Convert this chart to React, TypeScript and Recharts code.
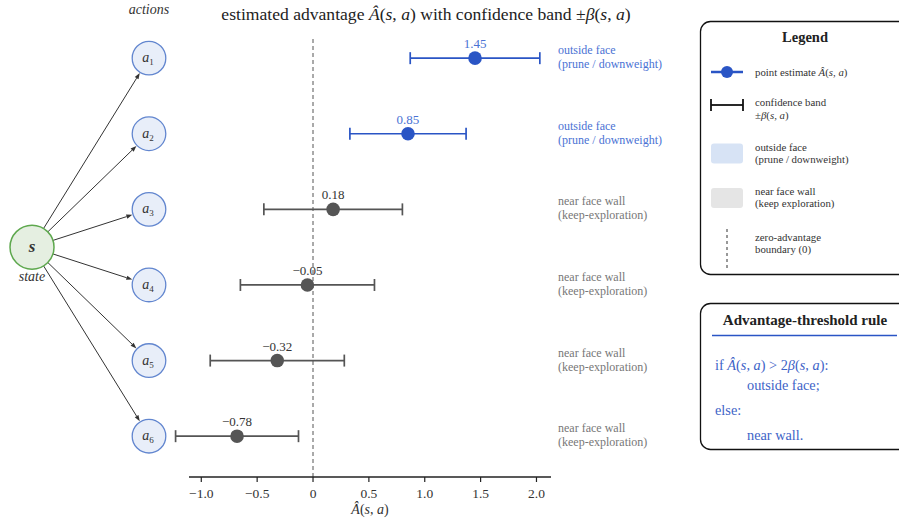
import React from 'react';
import { ScatterChart, Scatter, XAxis, YAxis, ErrorBar, ReferenceLine, ReferenceDot } from 'recharts';

// ---------- data ----------
const actionSubs = ['1', '2', '3', '4', '5', '6'];
const rows = [1, 2, 3, 4, 5, 6];
const advantage = [1.45, 0.85, 0.18, -0.05, -0.32, -0.68];
const beta = [0.58, 0.52, 0.62, 0.6, 0.6, 0.55];
const valueLabels = ['1.45', '0.85', '0.18', '\u22120.05', '\u22120.32', '\u22120.78'];
const groups = ['outside', 'outside', 'near', 'near', 'near', 'near'];
const xTicks = [-1, -0.5, 0, 0.5, 1, 1.5, 2];
const xTickLabels = ['\u22121.0', '\u22120.5', '0', '0.5', '1.0', '1.5', '2.0'];
const outsideText = ['outside face', '(prune / downweight)'];
const nearText = ['near face wall', '(keep-exploration)'];

// ---------- layout constants ----------
const SERIF = 'Liberation Serif';
const X_DOMAIN: [number, number] = [-1.28, 2.13];
const AXIS_SPAN: [number, number] = [-1.11, 2.13];
const Y_DOMAIN: [number, number] = [0.72, 6.54];
const ACTION_X = -1.468;
const STATE_X = -2.515;
const STATE_ROW = 3.5;
const SIDE_X = 2.193;
const BLUE = '#2a55c5';
const BLUE_TEXT = '#4a72d4';
const GRAY = '#555555';

const data = rows.map((r, i) => ({
  row: r,
  adv: advantage[i],
  beta: beta[i],
  label: valueLabels[i],
  group: groups[i],
  sub: actionSubs[i],
}));
const outsideData = data.filter((d) => d.group === 'outside');
const nearData = data.filter((d) => d.group === 'near');

const AHat = () => (
  <>
    <tspan fontStyle="italic">Â</tspan>
    <tspan>(</tspan>
    <tspan fontStyle="italic">s</tspan>
    <tspan>, </tspan>
    <tspan fontStyle="italic">a</tspan>
    <tspan>)</tspan>
  </>
);
const Beta = () => (
  <>
    <tspan fontStyle="italic">β</tspan>
    <tspan>(</tspan>
    <tspan fontStyle="italic">s</tspan>
    <tspan>, </tspan>
    <tspan fontStyle="italic">a</tspan>
    <tspan>)</tspan>
  </>
);

const makePointShape = (fill: string, labelFill: string) => (props: any) => {
  const { cx, cy, payload } = props;
  return (
    <g>
      <circle cx={cx} cy={cy} r={6.8} fill={fill} />
      <text x={cx} y={cy - 10} textAnchor="middle" fontSize={13} fill={labelFill} fontFamily={SERIF}>
        {payload.label}
      </text>
    </g>
  );
};

const Arrow = (props: any) => {
  const { x1, y1, x2, y2 } = props;
  const dx = x2 - x1;
  const dy = y2 - y1;
  const L = Math.hypot(dx, dy) || 1;
  const ux = dx / L;
  const uy = dy / L;
  const sx = x1 + ux * 22;
  const sy = y1 + uy * 22;
  const ex = x2 - ux * 17.5;
  const ey = y2 - uy * 17.5;
  const hl = 6;
  const hw = 2.2;
  const bx = ex - ux * hl;
  const by = ey - uy * hl;
  const pts = `${ex},${ey} ${bx - uy * hw},${by + ux * hw} ${bx + uy * hw},${by - ux * hw}`;
  return (
    <g>
      <line x1={sx} y1={sy} x2={bx} y2={by} stroke="#333" strokeWidth={1} />
      <polygon points={pts} fill="#333" />
    </g>
  );
};

const makeActionNode = (sub: string, showHeader: boolean) => (props: any) => {
  const { cx, cy } = props;
  return (
    <g>
      <circle cx={cx} cy={cy} r={16.8} fill="#e8eef9" stroke="#6286cf" strokeWidth={1.3} />
      <text x={cx - 1} y={cy + 4} textAnchor="middle" fontFamily={SERIF} fontSize={14} fill="#333">
        <tspan fontStyle="italic">a</tspan>
        <tspan dy={3} fontSize={9}>{sub}</tspan>
      </text>
      {showHeader && (
        <text x={cx} y={cy - 44} textAnchor="middle" fontFamily={SERIF} fontSize={14} fontStyle="italic" fill="#333">
          actions
        </text>
      )}
    </g>
  );
};

const StateNode = (props: any) => {
  const { cx, cy } = props;
  return (
    <g>
      <circle cx={cx} cy={cy} r={22} fill="#e5efe1" stroke="#5ea84e" strokeWidth={1.5} />
      <text x={cx} y={cy + 5} textAnchor="middle" fontFamily={SERIF} fontSize={17} fontStyle="italic" fontWeight="bold" fill="#333">
        s
      </text>
      <text x={cx} y={cy + 34} textAnchor="middle" fontFamily={SERIF} fontSize={14} fontStyle="italic" fill="#333">
        state
      </text>
    </g>
  );
};

const makeSideLabel = (lines: string[], color: string) => (props: any) => {
  const { cx, cy } = props;
  return (
    <text x={cx} fontFamily={SERIF} fontSize={12} fill={color}>
      <tspan x={cx} y={cy - 4}>{lines[0]}</tspan>
      <tspan x={cx} y={cy + 10}>{lines[1]}</tspan>
    </text>
  );
};

const AxisTitle = (props: any) => {
  const { cx, cy } = props;
  return (
    <text x={cx} y={cy + 37} textAnchor="middle" fontFamily={SERIF} fontSize={14} fill="#333">
      <AHat />
    </text>
  );
};

const Overlay = () => (
  <svg width={899} height={527} style={{ position: 'absolute', left: 0, top: 0, pointerEvents: 'none' }}>
    <text x={426} y={20} textAnchor="middle" fontFamily={SERIF} fontSize={17.6} fill="#222">
      estimated advantage <AHat /> with confidence band ±<Beta />
    </text>

    {/* Legend box */}
    <rect x={700.5} y={21.5} width={230} height={253} rx={10} fill="#fff" stroke="#111" strokeWidth={1.3} />
    <text x={805} y={42} textAnchor="middle" fontFamily={SERIF} fontSize={14.5} fontWeight="bold" fill="#222">
      Legend
    </text>
    <line x1={711} y1={72} x2={743} y2={72} stroke={BLUE} strokeWidth={2.5} />
    <circle cx={727} cy={72} r={6} fill={BLUE} />
    <text x={755} y={76} fontFamily={SERIF} fontSize={10.8} fill="#333">
      point estimate <AHat />
    </text>
    <line x1={711} y1={105} x2={743} y2={105} stroke="#111" strokeWidth={1.8} />
    <line x1={711} y1={99} x2={711} y2={111} stroke="#111" strokeWidth={1.8} />
    <line x1={743} y1={99} x2={743} y2={111} stroke="#111" strokeWidth={1.8} />
    <text fontFamily={SERIF} fontSize={10.8} fill="#333">
      <tspan x={755} y={106}>confidence band</tspan>
      <tspan x={755} y={119}>±</tspan>
      <Beta />
    </text>
    <rect x={711} y={143.5} width={32} height={20} rx={3} fill="#d7e3f5" />
    <text fontFamily={SERIF} fontSize={10.8} fill="#333">
      <tspan x={755} y={151}>outside face</tspan>
      <tspan x={755} y={163}>(prune / downweight)</tspan>
    </text>
    <rect x={711} y={188} width={32} height={20} rx={3} fill="#e5e5e5" />
    <text fontFamily={SERIF} fontSize={10.8} fill="#333">
      <tspan x={755} y={195}>near face wall</tspan>
      <tspan x={755} y={207}>(keep exploration)</tspan>
    </text>
    <line x1={727} y1={229} x2={727} y2={268} stroke="#777" strokeWidth={1.5} strokeDasharray="3 3" />
    <text fontFamily={SERIF} fontSize={10.8} fill="#333">
      <tspan x={755} y={241}>zero-advantage</tspan>
      <tspan x={755} y={253}>boundary (0)</tspan>
    </text>

    {/* Rule box */}
    <rect x={700.5} y={303.5} width={230} height={146} rx={10} fill="#fff" stroke="#111" strokeWidth={1.3} />
    <text x={805} y={325} textAnchor="middle" fontFamily={SERIF} fontSize={15} fontWeight="bold" fill="#222">
      Advantage-threshold rule
    </text>
    <line x1={712} y1={335.5} x2={897} y2={335.5} stroke={BLUE} strokeWidth={1.3} />
    <g fontFamily={SERIF} fontSize={14.3} fill="#3d63c7">
      <text x={715} y={370}>
        if <AHat /> &gt; 2<Beta />:
      </text>
      <text x={747} y={390}>outside face;</text>
      <text x={715} y={415}>else:</text>
      <text x={747} y={440}>near wall.</text>
    </g>
  </svg>
);

export default function App() {
  return (
    <div style={{ position: 'absolute', left: 0, top: 0, width: 899, height: 527, background: '#fff', fontFamily: SERIF }}>
      <ScatterChart width={899} height={527} margin={{ top: 37, right: 348, bottom: 0, left: 170 }}>
        <XAxis
          type="number"
          dataKey="adv"
          domain={X_DOMAIN}
          ticks={xTicks}
          tickFormatter={(v: number) => xTickLabels[xTicks.indexOf(v)] ?? String(v)}
          height={50}
          axisLine={false}
          tickLine={{ stroke: '#222', strokeWidth: 1.2 }}
          tickSize={5}
          tickMargin={6}
          tick={{ fill: '#333', fontSize: 13.5, fontFamily: SERIF }}
        />
        <YAxis type="number" dataKey="row" domain={Y_DOMAIN} reversed hide />

        <ReferenceLine x={0} stroke="#555" strokeWidth={1} strokeDasharray="4 3" />
        <ReferenceLine
          segment={[{ x: AXIS_SPAN[0], y: Y_DOMAIN[1] }, { x: AXIS_SPAN[1], y: Y_DOMAIN[1] }]}
          stroke="#222"
          strokeWidth={1.3}
          ifOverflow="visible"
        />
        <ReferenceDot x={(AXIS_SPAN[0] + AXIS_SPAN[1]) / 2} y={Y_DOMAIN[1]} ifOverflow="visible" shape={AxisTitle} />

        {rows.map((r) => (
          <ReferenceLine
            key={'arrow' + r}
            segment={[{ x: STATE_X, y: STATE_ROW }, { x: ACTION_X, y: r }]}
            ifOverflow="visible"
            shape={Arrow}
          />
        ))}
        <ReferenceDot x={STATE_X} y={STATE_ROW} ifOverflow="visible" shape={StateNode} />
        {data.map((d, i) => (
          <ReferenceDot key={'node' + d.row} x={ACTION_X} y={d.row} ifOverflow="visible" shape={makeActionNode(d.sub, i === 0)} />
        ))}
        {data.map((d) => (
          <ReferenceDot
            key={'side' + d.row}
            x={SIDE_X}
            y={d.row}
            ifOverflow="visible"
            shape={d.group === 'outside' ? makeSideLabel(outsideText, BLUE_TEXT) : makeSideLabel(nearText, '#777')}
          />
        ))}

        <Scatter data={nearData} isAnimationActive={false} shape={makePointShape(GRAY, '#333')}>
          <ErrorBar dataKey="beta" direction="x" width={6} stroke={GRAY} strokeWidth={1.7} isAnimationActive={false} />
        </Scatter>
        <Scatter data={outsideData} isAnimationActive={false} shape={makePointShape(BLUE, BLUE_TEXT)}>
          <ErrorBar dataKey="beta" direction="x" width={6} stroke={BLUE} strokeWidth={1.7} isAnimationActive={false} />
        </Scatter>
      </ScatterChart>
      <Overlay />
    </div>
  );
}
